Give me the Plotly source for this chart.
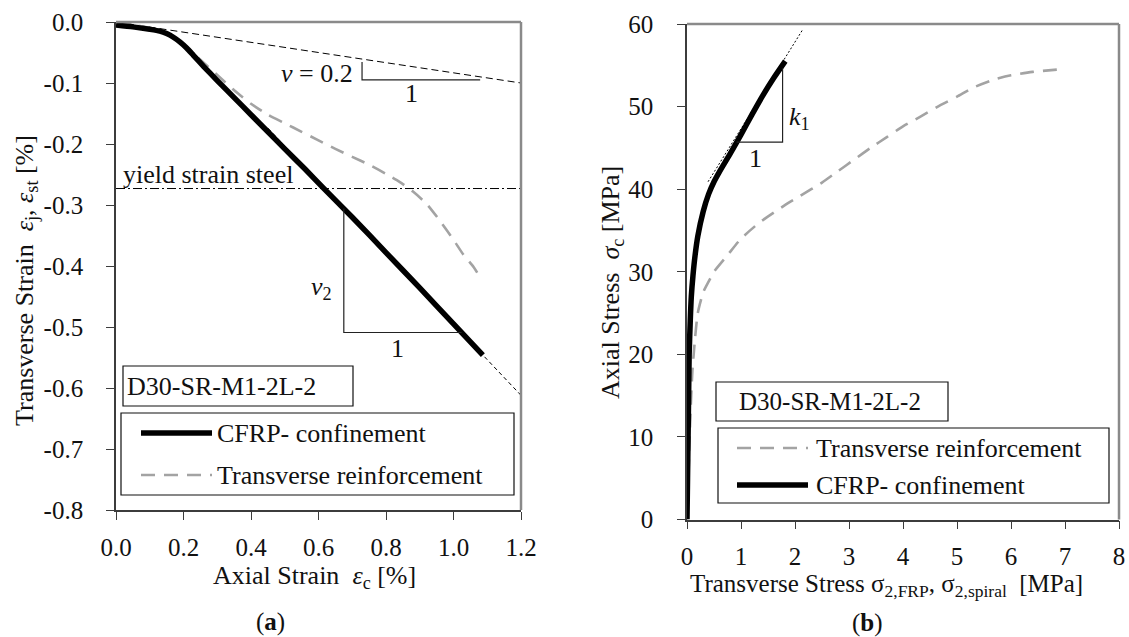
import plotly.graph_objects as go

W, H = 1129, 637
FONT = "Liberation Serif, Times New Roman, serif"

# ---------------- panel (a): transverse strain vs axial strain ----------------
axial_strain_cfrp = [0.0, 0.05, 0.10, 0.13, 0.15, 0.17, 0.19, 0.21, 0.23, 0.26, 0.30, 0.35,
                     0.40, 0.45, 0.50, 0.56, 0.614, 0.70, 0.80, 0.90, 1.00, 1.087]
transverse_strain_cfrp = [-0.005, -0.008, -0.012, -0.015, -0.019, -0.025, -0.033, -0.043,
                          -0.055, -0.073, -0.096, -0.124, -0.152, -0.180, -0.208, -0.241,
                          -0.272, -0.320, -0.378, -0.436, -0.495, -0.546]

axial_strain_spiral = [0.0, 0.10, 0.18, 0.25, 0.30, 0.35, 0.40, 0.45, 0.50, 0.55, 0.60,
                       0.65, 0.70, 0.75, 0.80, 0.84, 0.88, 0.92, 0.96, 1.00, 1.03, 1.06, 1.08]
transverse_strain_spiral = [0.0, -0.010, -0.027, -0.062, -0.087, -0.112, -0.134, -0.152,
                            -0.166, -0.180, -0.194, -0.208, -0.221, -0.234, -0.249, -0.262,
                            -0.278, -0.298, -0.326, -0.357, -0.382, -0.402, -0.420]

yield_strain_steel = -0.273
nu_ref_x = [0.0, 1.2]
nu_ref_y = [0.0, -0.1]
nu2_fit_x = [0.45, 1.2]
nu2_fit_y = [-0.174, -0.612]

strain_x_ticks = [0.0, 0.2, 0.4, 0.6, 0.8, 1.0, 1.2]
strain_x_labels = ["0.0", "0.2", "0.4", "0.6", "0.8", "1.0", "1.2"]
strain_y_ticks = [0.0, -0.1, -0.2, -0.3, -0.4, -0.5, -0.6, -0.7, -0.8]
strain_y_labels = ["0.0", "-0.1", "-0.2", "-0.3", "-0.4", "-0.5", "-0.6", "-0.7", "-0.8"]

# ---------------- panel (b): axial stress vs transverse stress ----------------
stress_frp = [0.0, 0.01, 0.02, 0.03, 0.04, 0.06, 0.08, 0.11, 0.15, 0.20, 0.30, 0.40,
              0.50, 0.60, 0.80, 1.00, 1.20, 1.40, 1.60, 1.82]
axial_stress_frp = [0.0, 5.0, 10.0, 15.0, 20.0, 24.0, 27.0, 29.5, 32.0, 34.3, 37.3, 39.4,
                    40.9, 42.1, 44.3, 46.6, 49.0, 51.3, 53.4, 55.5]

stress_spiral = [0.0, 0.03, 0.06, 0.10, 0.15, 0.20, 0.30, 0.40, 0.50, 0.75, 1.00, 1.35,
                 1.80, 2.10, 2.50, 2.80, 3.10, 3.40, 3.70, 4.00, 4.30, 4.70, 5.00, 5.30,
                 5.70, 6.00, 6.40, 6.90]
axial_stress_spiral = [0.0, 6.0, 12.0, 18.0, 22.0, 25.0, 27.5, 28.8, 30.0, 32.0, 34.0, 36.0,
                       38.0, 39.2, 40.8, 42.2, 43.6, 45.0, 46.3, 47.6, 48.7, 50.2, 51.2, 52.3,
                       53.3, 53.8, 54.2, 54.5]

k1_fit_x = [0.39, 2.15]
k1_fit_y = [40.9, 59.4]

stress_x_ticks = [0, 1, 2, 3, 4, 5, 6, 7, 8]
stress_y_ticks = [0, 10, 20, 30, 40, 50, 60]


def px(x):
    return x / W


def py(y):
    return 1 - y / H


BLACK = "#000000"
GRAY = "#a3a3a3"
AXIS = "#3c3c3c"
FRAME = "#8a8a8a"
GRAY_DASH = "14px,9px"
TXT = 26

fig = go.Figure()

# panel (a) traces
fig.add_trace(go.Scatter(x=nu_ref_x, y=nu_ref_y, mode="lines",
                         line=dict(color=BLACK, width=1, dash="7px,4px"),
                         xaxis="x", yaxis="y", hoverinfo="skip"))
fig.add_trace(go.Scatter(x=[0, 1.2], y=[yield_strain_steel] * 2, mode="lines",
                         line=dict(color=BLACK, width=1, dash="9px,3px,2px,3px"),
                         xaxis="x", yaxis="y", hoverinfo="skip"))
fig.add_trace(go.Scatter(x=nu2_fit_x, y=nu2_fit_y, mode="lines",
                         line=dict(color=BLACK, width=1, dash="4px,3px"),
                         xaxis="x", yaxis="y", hoverinfo="skip"))
fig.add_trace(go.Scatter(x=axial_strain_spiral, y=transverse_strain_spiral, mode="lines",
                         name="Transverse reinforcement",
                         line=dict(color=GRAY, width=2.6, dash=GRAY_DASH, shape="spline", smoothing=0.6),
                         xaxis="x", yaxis="y"))
fig.add_trace(go.Scatter(x=axial_strain_cfrp, y=transverse_strain_cfrp, mode="lines",
                         name="CFRP- confinement",
                         line=dict(color=BLACK, width=5.5, shape="spline", smoothing=0.6),
                         xaxis="x", yaxis="y"))

# panel (b) traces
fig.add_trace(go.Scatter(x=k1_fit_x, y=k1_fit_y, mode="lines",
                         line=dict(color=BLACK, width=1, dash="2px,2px"),
                         xaxis="x2", yaxis="y2", hoverinfo="skip"))
fig.add_trace(go.Scatter(x=stress_spiral, y=axial_stress_spiral, mode="lines",
                         name="Transverse reinforcement",
                         line=dict(color=GRAY, width=2.6, dash=GRAY_DASH, shape="spline", smoothing=0.6),
                         xaxis="x2", yaxis="y2"))
fig.add_trace(go.Scatter(x=stress_frp, y=axial_stress_frp, mode="lines",
                         name="CFRP- confinement",
                         line=dict(color=BLACK, width=5.5, shape="spline", smoothing=0.6),
                         xaxis="x2", yaxis="y2"))

axis_common = dict(showline=True, linecolor=AXIS, linewidth=1.6, ticks="outside",
                   ticklen=8, tickwidth=1, tickcolor=AXIS, showgrid=False, zeroline=False,
                   tickfont=dict(family=FONT, size=25, color="#111"), fixedrange=True,
                   automargin=False)

fig.update_layout(
    width=W, height=H,
    margin=dict(l=0, r=0, t=0, b=0),
    paper_bgcolor="white", plot_bgcolor="white",
    showlegend=False,
    font=dict(family=FONT, color="#111"),
    xaxis=dict(domain=[px(116), px(521)], range=[0, 1.2], anchor="y",
               tickvals=strain_x_ticks, ticktext=strain_x_labels,
               ticklabelstandoff=6, **axis_common),
    yaxis=dict(domain=[py(510), py(22)], range=[-0.8, 0], anchor="x",
               tickvals=strain_y_ticks, ticktext=strain_y_labels,
               ticklabelstandoff=18, **axis_common),
    xaxis2=dict(domain=[px(687), px(1119)], range=[0, 8], anchor="y2",
                tickvals=stress_x_ticks, ticklabelstandoff=6, **axis_common),
    yaxis2=dict(domain=[py(519.5), py(24)], range=[0, 60], anchor="x2",
                tickvals=stress_y_ticks, ticklabelstandoff=19, **axis_common),
)

shapes = []
# gray top / right frame edges
for xr, yr in (("x", "y"), ("x2", "y2")):
    shapes.append(dict(type="line", xref=f"{xr} domain", yref=f"{yr} domain",
                       x0=0, x1=1, y0=1, y1=1, line=dict(color=FRAME, width=2.5)))
    shapes.append(dict(type="line", xref=f"{xr} domain", yref=f"{yr} domain",
                       x0=1, x1=1, y0=0, y1=1, line=dict(color=FRAME, width=2.5)))

# slope triangles
tri = dict(color="#222", width=1.2)
shapes += [
    dict(type="path", xref="x", yref="y",
         path="M 0.729,-0.0656 L 0.729,-0.095 L 1.079,-0.095", line=tri),
    dict(type="path", xref="x", yref="y",
         path="M 0.675,-0.3056 L 0.675,-0.509 L 1.024,-0.509", line=tri),
    dict(type="path", xref="x2", yref="y2",
         path="M 1.77,54.6 L 1.77,45.7 L 0.92,45.7", line=tri),
]

# specimen label boxes and legend boxes
box = dict(color="#111", width=1.2)
shapes += [
    dict(type="rect", xref="paper", yref="paper", x0=px(123), x1=px(353), y0=py(406), y1=py(366), line=box),
    dict(type="rect", xref="paper", yref="paper", x0=px(121), x1=px(514), y0=py(495), y1=py(413), line=box),
    dict(type="rect", xref="paper", yref="paper", x0=px(716), x1=px(948), y0=py(421), y1=py(382), line=box),
    dict(type="rect", xref="paper", yref="paper", x0=px(718), x1=px(1109), y0=py(503), y1=py(428), line=box),
]
# legend samples
shapes += [
    dict(type="line", xref="paper", yref="paper", x0=px(141), x1=px(212), y0=py(433), y1=py(433),
         line=dict(color=BLACK, width=5.5)),
    dict(type="line", xref="paper", yref="paper", x0=px(141), x1=px(212), y0=py(475), y1=py(475),
         line=dict(color=GRAY, width=2.6, dash=GRAY_DASH)),
    dict(type="line", xref="paper", yref="paper", x0=px(737), x1=px(808), y0=py(448), y1=py(448),
         line=dict(color=GRAY, width=2.6, dash=GRAY_DASH)),
    dict(type="line", xref="paper", yref="paper", x0=px(737), x1=px(808), y0=py(485), y1=py(485),
         line=dict(color=BLACK, width=5.5)),
]
fig.update_layout(shapes=shapes)

ann = []


def text(x, y, s, size=TXT, xanchor="left", yanchor="middle", angle=0):
    ann.append(dict(x=px(x), y=py(y), xref="paper", yref="paper", text=s, showarrow=False,
                    xanchor=xanchor, yanchor=yanchor, textangle=angle,
                    font=dict(family=FONT, size=size, color="#111")))


# axis titles
text(26, 281, "Transverse Strain  <i>ε</i><sub>j</sub>, <i>ε</i><sub>st</sub> [%]",
     xanchor="center", angle=-90)
text(314, 559, "Axial Strain  <i>ε</i><sub>c</sub> [%]", xanchor="center", yanchor="top")
text(612, 283, "Axial Stress  <i>σ</i><sub>c</sub> [MPa]", xanchor="center", angle=-90)
text(886, 568, "Transverse Stress σ<sub>2,FRP</sub>, σ<sub>2,spiral</sub>  [MPa]", size=25,
     xanchor="center", yanchor="top")

# captions
text(270, 622, "(<b>a</b>)", size=25, xanchor="center")
text(867, 623, "(<b>b</b>)", size=25, xanchor="center")

# in-plot labels
text(355, 74, "<i>ν</i> = 0.2", xanchor="right")
text(411, 94, "1", xanchor="center")
text(121, 191, "yield strain steel", yanchor="bottom")
text(334, 288, "<i>ν</i><sub>2</sub>", xanchor="right")
text(397, 348, "1", xanchor="center")
text(787, 118, "<i>k</i><sub>1</sub>")
text(755, 159, "1", xanchor="center")

# specimen labels and legend entries
text(318, 386, "D30-SR-M1-2L-2", xanchor="right")
text(215, 433, "CFRP- confinement")
text(215, 475, "Transverse reinforcement")
text(737, 401, "D30-SR-M1-2L-2", size=25)
text(814, 448, "Transverse reinforcement")
text(814, 485, "CFRP- confinement")

fig.update_layout(annotations=ann)

fig.write_html("out.html")
